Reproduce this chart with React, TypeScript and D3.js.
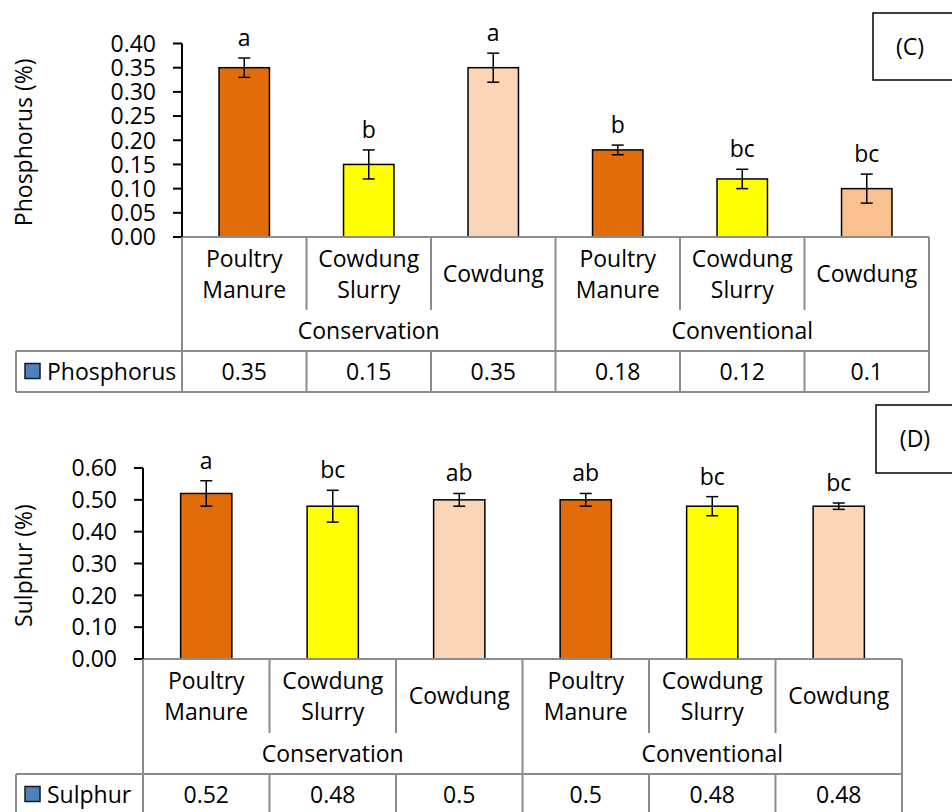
import React from 'react'
import * as d3 from 'd3'

const categories = ['Poultry Manure', 'Cowdung Slurry', 'Cowdung', 'Poultry Manure', 'Cowdung Slurry', 'Cowdung']
const groups = ['Conservation', 'Conventional']

const phosphorus = [0.35, 0.15, 0.35, 0.18, 0.12, 0.1]
const phosphorusErr = [0.02, 0.03, 0.03, 0.01, 0.02, 0.03]
const phosphorusLetters = ['a', 'b', 'a', 'b', 'bc', 'bc']
const phosphorusTicks = [0, 0.05, 0.1, 0.15, 0.2, 0.25, 0.3, 0.35, 0.4]

const sulphur = [0.52, 0.48, 0.5, 0.5, 0.48, 0.48]
const sulphurErr = [0.04, 0.05, 0.02, 0.02, 0.03, 0.01]
const sulphurLetters = ['a', 'bc', 'ab', 'ab', 'bc', 'bc']
const sulphurTicks = [0, 0.1, 0.2, 0.3, 0.4, 0.5, 0.6]

const topColors = ['#E36C0A', '#FFFF00', '#FBD5B5', '#E36C0A', '#FFFF00', '#FAC090']
const bottomColors = ['#E36C0A', '#FFFF00', '#FBD5B5', '#E36C0A', '#FFFF00', '#FBD5B5']

const FONT = '"Open Sans", sans-serif'
const GRID = '#8c8c8c'

type PanelProps = {
  values: number[]
  errs: number[]
  letters: string[]
  ticks: number[]
  colors: string[]
  seriesName: string
  yTitle: string
  tag: string
  axisX: number
  right: number
  y0: number
  yTop: number
  catBottom: number
  groupBottom: number
  tableBottom: number
  tagBox: { x: number; y: number; h: number; tx: number }
}

function Panel(p: PanelProps) {
  const max = p.ticks[p.ticks.length - 1]
  const y = d3.scaleLinear().domain([0, max]).range([p.y0, p.yTop])
  const x = d3
    .scaleBand<number>()
    .domain(d3.range(categories.length))
    .range([p.axisX, p.right])
    .padding(0)
  const bw = x.bandwidth()
  const barW = bw * 0.405
  const fmt = d3.format('.2f')
  const catMid = (p.y0 + p.catBottom) / 2
  const groupMid = (p.catBottom + p.groupBottom) / 2
  const tableMid = (p.groupBottom + p.tableBottom) / 2
  const perGroup = categories.length / groups.length

  return (
    <g fontFamily={FONT} fontSize={23} fill="#000">
      {/* y axis title */}
      <text
        transform={`translate(24, ${(p.yTop + p.y0) / 2 + 2}) rotate(-90)`}
        textAnchor="middle"
        dy="0.35em"
      >
        {p.yTitle}
      </text>

      {/* ticks */}
      {p.ticks.map((t) => (
        <g key={t}>
          <line x1={p.axisX - 9} x2={p.axisX} y1={y(t)} y2={y(t)} stroke="#000" strokeWidth={2} />
          <text x={p.axisX - 26} y={y(t)} dy="0.36em" textAnchor="end">
            {fmt(t)}
          </text>
        </g>
      ))}

      {/* bars */}
      {p.values.map((v, i) => {
        const cx = x(i)! + bw / 2
        const top = y(v + p.errs[i])
        const bot = y(v - p.errs[i])
        return (
          <g key={i}>
            <rect
              x={cx - barW / 2}
              y={y(v)}
              width={barW}
              height={p.y0 - y(v)}
              fill={p.colors[i]}
              stroke="#000"
              strokeWidth={1.5}
            />
            <line x1={cx} x2={cx} y1={top} y2={bot} stroke="#000" strokeWidth={1.5} />
            <line x1={cx - 6} x2={cx + 6} y1={top} y2={top} stroke="#000" strokeWidth={1.5} />
            <line x1={cx - 6} x2={cx + 6} y1={bot} y2={bot} stroke="#000" strokeWidth={1.5} />
            <text x={cx} y={top - 12} textAnchor="middle">
              {p.letters[i]}
            </text>
          </g>
        )
      })}

      {/* table grid */}
      <g stroke={GRID} strokeWidth={2} fill="none">
        <line x1={p.axisX} x2={p.right} y1={p.y0} y2={p.y0} />
        <line x1={16} x2={p.right} y1={p.groupBottom} y2={p.groupBottom} />
        <line x1={16} x2={p.right} y1={p.tableBottom} y2={p.tableBottom} />
        <line x1={16} x2={16} y1={p.groupBottom} y2={p.tableBottom} />
        {d3.range(categories.length + 1).map((i) => {
          const xx = i === categories.length ? p.right : x(i)!
          const full = i % perGroup === 0
          return (
            <g key={i}>
              <line x1={xx} x2={xx} y1={p.y0} y2={full ? p.tableBottom : p.catBottom} />
              {!full && <line x1={xx} x2={xx} y1={p.groupBottom} y2={p.tableBottom} />}
            </g>
          )
        })}
      </g>

      {/* y axis line */}
      <line x1={p.axisX} x2={p.axisX} y1={p.yTop} y2={p.y0} stroke="#000" strokeWidth={2} />

      {/* category labels */}
      {categories.map((c, i) => {
        const cx = x(i)! + bw / 2
        const words = c.split(' ')
        return (
          <text key={i} x={cx} textAnchor="middle">
            {words.length === 1 ? (
              <tspan x={cx} y={catMid + 8}>
                {c}
              </tspan>
            ) : (
              words.map((w, j) => (
                <tspan key={j} x={cx} y={catMid - 7 + j * 31}>
                  {w}
                </tspan>
              ))
            )}
          </text>
        )
      })}

      {/* group labels */}
      {groups.map((g, gi) => {
        const x0 = x(gi * perGroup)!
        const x1 = gi === groups.length - 1 ? p.right : x((gi + 1) * perGroup)!
        return (
          <text key={g} x={(x0 + x1) / 2} y={groupMid + 8} textAnchor="middle">
            {g}
          </text>
        )
      })}

      {/* data table */}
      <rect x={25} y={tableMid - 8} width={15} height={15} fill="#4F81BD" stroke="#1a1a1a" strokeWidth={1.5} />
      <text x={47} y={tableMid + 8}>
        {p.seriesName}
      </text>
      {p.values.map((v, i) => (
        <text key={i} x={x(i)! + bw / 2} y={tableMid + 8} textAnchor="middle">
          {String(v)}
        </text>
      ))}

      {/* panel tag */}
      <rect
        x={p.tagBox.x}
        y={p.tagBox.y}
        width={120}
        height={p.tagBox.h}
        fill="#fff"
        stroke="#000"
        strokeWidth={1.5}
      />
      <text x={p.tagBox.tx} y={p.tagBox.y + p.tagBox.h / 2} dy="0.36em" textAnchor="middle">
        {p.tag}
      </text>
    </g>
  )
}

export default function App() {
  return (
    <svg
      width={952}
      height={812}
      style={{ position: 'absolute', left: 0, top: 0, background: '#fff' }}
    >
      <rect width={952} height={812} fill="#fff" />
      <Panel
        values={phosphorus}
        errs={phosphorusErr}
        letters={phosphorusLetters}
        ticks={phosphorusTicks}
        colors={topColors}
        seriesName="Phosphorus"
        yTitle="Phosphorus (%)"
        tag="(C)"
        axisX={182}
        right={929}
        y0={237}
        yTop={43.5}
        catBottom={310}
        groupBottom={351}
        tableBottom={392}
        tagBox={{ x: 873, y: 13, h: 67, tx: 910 }}
      />
      <Panel
        values={sulphur}
        errs={sulphurErr}
        letters={sulphurLetters}
        ticks={sulphurTicks}
        colors={bottomColors}
        seriesName="Sulphur"
        yTitle="Sulphur (%)"
        tag="(D)"
        axisX={143}
        right={902}
        y0={659}
        yTop={468}
        catBottom={733}
        groupBottom={774}
        tableBottom={815}
        tagBox={{ x: 876, y: 405, h: 68, tx: 915 }}
      />
    </svg>
  )
}
